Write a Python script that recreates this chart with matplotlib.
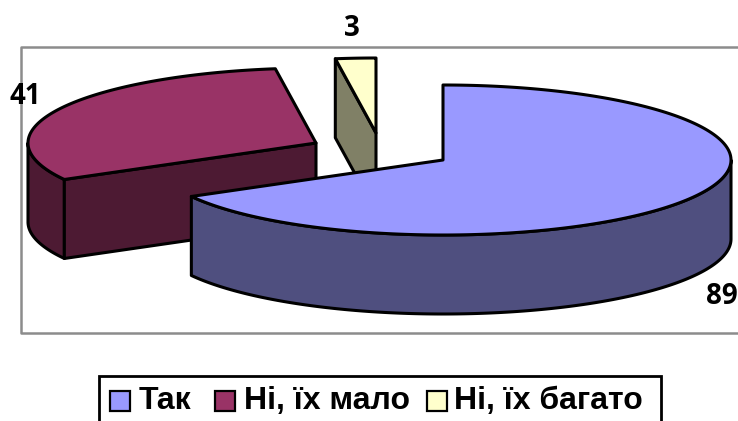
import numpy as np
import matplotlib
matplotlib.use("Agg")
import matplotlib.pyplot as plt
from matplotlib.patches import Polygon, Rectangle

categories = ["Так", "Ні, їх мало", "Ні, їх багато"]
values = [89, 41, 3]
top_colors = ["#9999ff", "#993366", "#ffffcc"]
side_colors = ["#4f4f7f", "#4d1a33", "#808066"]

# pie centres in pixels, the slices are pulled apart by hand
centers = [(443, 160), (316, 143), (376, 133)]
rx, ry, depth = 288, 75, 79

fig = plt.figure(figsize=(7.38, 4.21), dpi=100)
ax = fig.add_axes([0, 0, 1, 1])
ax.set_xlim(0, 738)
ax.set_ylim(421, 0)
ax.axis("off")


def rim(center, a0, a1, dy=0):
    # angles in degrees, clockwise from 12 o'clock
    t = np.radians(np.linspace(a0, a1, 200))
    return np.column_stack([center[0] + rx * np.sin(t), center[1] + dy - ry * np.cos(t)])


def draw(pts, color, z):
    ax.add_patch(Polygon(pts, closed=True, facecolor=color, edgecolor="black",
                         lw=2.2, joinstyle="round", zorder=z))


# plot area frame, runs off the right edge
ax.plot([738, 20.5, 20.5, 738], [47, 47, 333, 333], color="#8c8c8c", lw=1.8, zorder=0)

angles = np.cumsum([0] + values) / sum(values) * 360
starts, ends = angles[:-1], angles[1:]

# red slice: outer rim, then the cut face towards the viewer
c = centers[1]
upper = rim(c, starts[1], 270)
draw(np.vstack([upper, rim(c, starts[1], 270, depth)[::-1]]), side_colors[1], 2)
edge = rim(c, starts[1], starts[1])[0]
draw([c, edge, edge + [0, depth], (c[0], c[1] + depth)], side_colors[1], 2)
draw(np.vstack([[c], rim(c, starts[1], ends[1])]), top_colors[1], 3)

# yellow slice: only the cut face and the top show
c = centers[2]
edge = rim(c, starts[2], starts[2])[0]
draw([edge, c, (c[0], c[1] + depth), edge + [0, depth]], side_colors[2], 2)
draw(np.vstack([[c], rim(c, starts[2], ends[2])]), top_colors[2], 3)

# blue slice goes in front of the others
c = centers[0]
draw(np.vstack([rim(c, 90, ends[0]), rim(c, 90, ends[0], depth)[::-1]]), side_colors[0], 5)
draw(np.vstack([[c], rim(c, starts[0], ends[0])]), top_colors[0], 6)

# data labels
label_font = ["Open Sans", "DejaVu Sans"]
label_pos = [(722, 297), (25, 97), (352, 29)]
for v, (x, y) in zip(values, label_pos):
    ax.text(x, y, str(v), ha="center", va="center", fontsize=20, fontweight="bold",
            family=label_font, color="black", zorder=8)

# legend, built by hand so the box sits where it does in the picture
ax.add_patch(Rectangle((98.5, 376), 562, 60, facecolor="white", edgecolor="black",
                       lw=2, zorder=7))
swatch_x = [110, 215, 427]
text_x = [139, 244, 454]
for name, color, sx, tx in zip(categories, top_colors, swatch_x, text_x):
    ax.add_patch(Rectangle((sx, 391), 20, 20, facecolor=color, edgecolor="black", lw=1.6, zorder=8))
    ax.text(tx, 401, name, ha="left", va="center", fontsize=23, fontweight="bold",
            family=["Liberation Sans", "DejaVu Sans"], color="black", zorder=8)

fig.savefig("out.png", dpi=100)
